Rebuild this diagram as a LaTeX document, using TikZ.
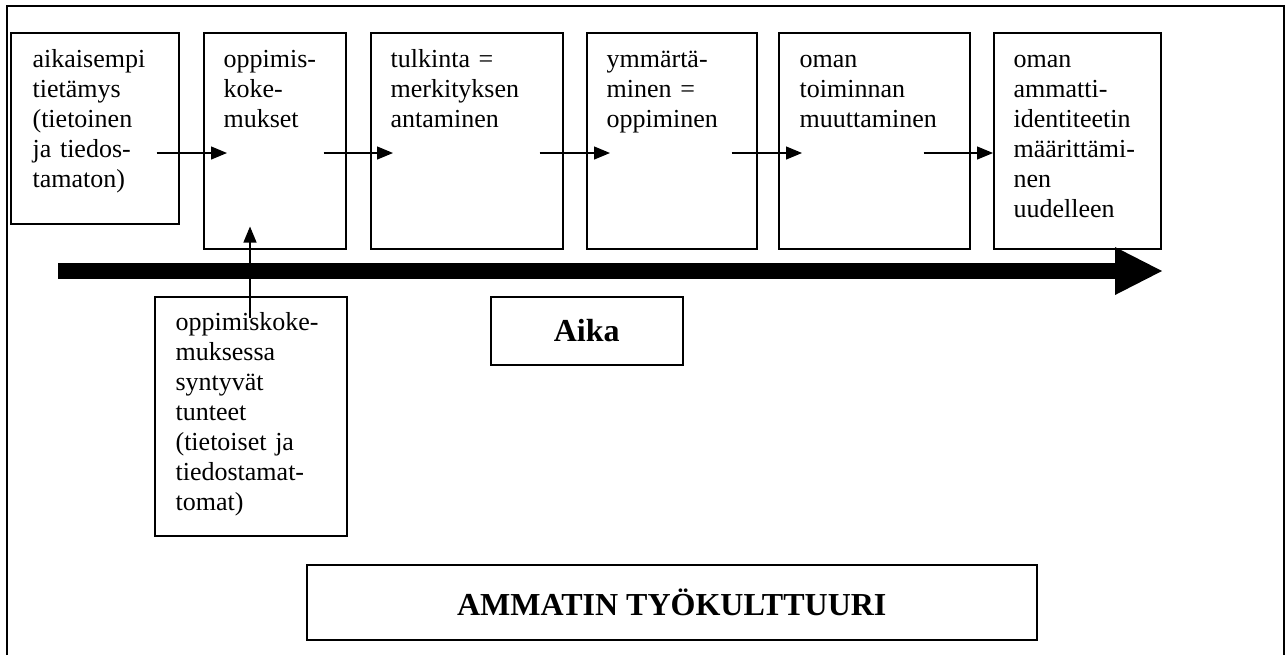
\documentclass[tikz,border=0pt]{standalone}
\usepackage{fontspec}
\setmainfont{Liberation Serif}
\usetikzlibrary{arrows.meta}

\begin{document}
\begin{tikzpicture}[
    x=0.5pt, y=-0.5pt,
    every node/.style={inner sep=0pt, font=\fontsize{13}{15}\selectfont},
    box/.style={draw, line width=0.75pt, anchor=north west},
    txt/.style={anchor=north west, text width=80pt, align=left, execute at begin node=\strut},
    heading/.style={font=\fontsize{16}{19}\selectfont\bfseries},
    >={Triangle[length=8pt, width=6.5pt]}, line width=0.6pt
  ]
    \useasboundingbox (0,0) rectangle (1286,655);
    \draw[line width=0.75pt] (7,655) -- (7,6) -- (1284,6) -- (1284,655);

    \node[box, minimum width=84pt, minimum height=95.5pt] (tieto) at (10,32) {};
    \node[box, minimum width=71pt, minimum height=108pt] (kokemus) at (203,32) {};
    \node[box, minimum width=96pt, minimum height=108pt] (tulkinta) at (370,32) {};
    \node[box, minimum width=85pt, minimum height=108pt] (ymmarrys) at (586,32) {};
    \node[box, minimum width=95.5pt, minimum height=108pt] (toiminta) at (778,32) {};
    \node[box, minimum width=83.5pt, minimum height=108pt] (identiteetti) at (993,32) {};
    \node[box, minimum width=96pt, minimum height=119.5pt] (tunteet) at (154,296) {};
    \node[box, heading, minimum width=96pt, minimum height=34pt] (aika) at (490,296) {Aika};
    \node[box, heading, minimum width=365pt, minimum height=37.5pt] (kulttuuri) at (306,564) {AMMATIN TYÖKULTTUURI};

    \node[txt] (tieto-t) at ([shift={(22,14)}]tieto.north west) {aikaisempi\\tietämys\\(tietoinen\\ja tiedos-\\tamaton)};
    \node[txt] (kokemus-t) at ([shift={(20,14)}]kokemus.north west) {oppimis-\\koke-\\mukset};
    \node[txt] (tulkinta-t) at ([shift={(20,14)}]tulkinta.north west) {tulkinta =\\merkityksen\\antaminen};
    \node[txt] (ymmarrys-t) at ([shift={(20,14)}]ymmarrys.north west) {ymmärtä-\\minen =\\oppiminen};
    \node[txt] (toiminta-t) at ([shift={(21,14)}]toiminta.north west) {oman\\toiminnan\\muuttaminen};
    \node[txt] (identiteetti-t) at ([shift={(20,14)}]identiteetti.north west) {oman\\ammatti-\\identiteetin\\määrittämi-\\nen\\uudelleen};
    \node[txt] (tunteet-t) at ([shift={(21,13)}]tunteet.north west) {oppimiskoke-\\muksessa\\syntyvät\\tunteet\\(tietoiset ja\\tiedostamat-\\tomat)};

    \coordinate (alku) at (58,271);
    \coordinate (loppu) at (1162,271);
    \draw[line width=8pt, -{Triangle[length=23.5pt, width=24pt, line width=0pt]}] (alku) -- (loppu);

    \draw[->] ([shift={(-23,121)}]tieto.north east) -- ([shift={(24,121)}]kokemus.north west);
    \draw[->] ([shift={(-23,121)}]kokemus.north east) -- ([shift={(23,121)}]tulkinta.north west);
    \draw[->] ([shift={(-24,121)}]tulkinta.north east) -- ([shift={(24,121)}]ymmarrys.north west);
    \draw[->] ([shift={(-26,121)}]ymmarrys.north east) -- ([shift={(24,121)}]toiminta.north west);
    \draw[->] ([shift={(-47,121)}]toiminta.north east) -- ([shift={(0,121)}]identiteetti.north west);
    \draw[->] ([shift={(96,22)}]tunteet.north west) -- ([shift={(47,-23)}]kokemus.south west);
  \end{tikzpicture}
\end{document}
